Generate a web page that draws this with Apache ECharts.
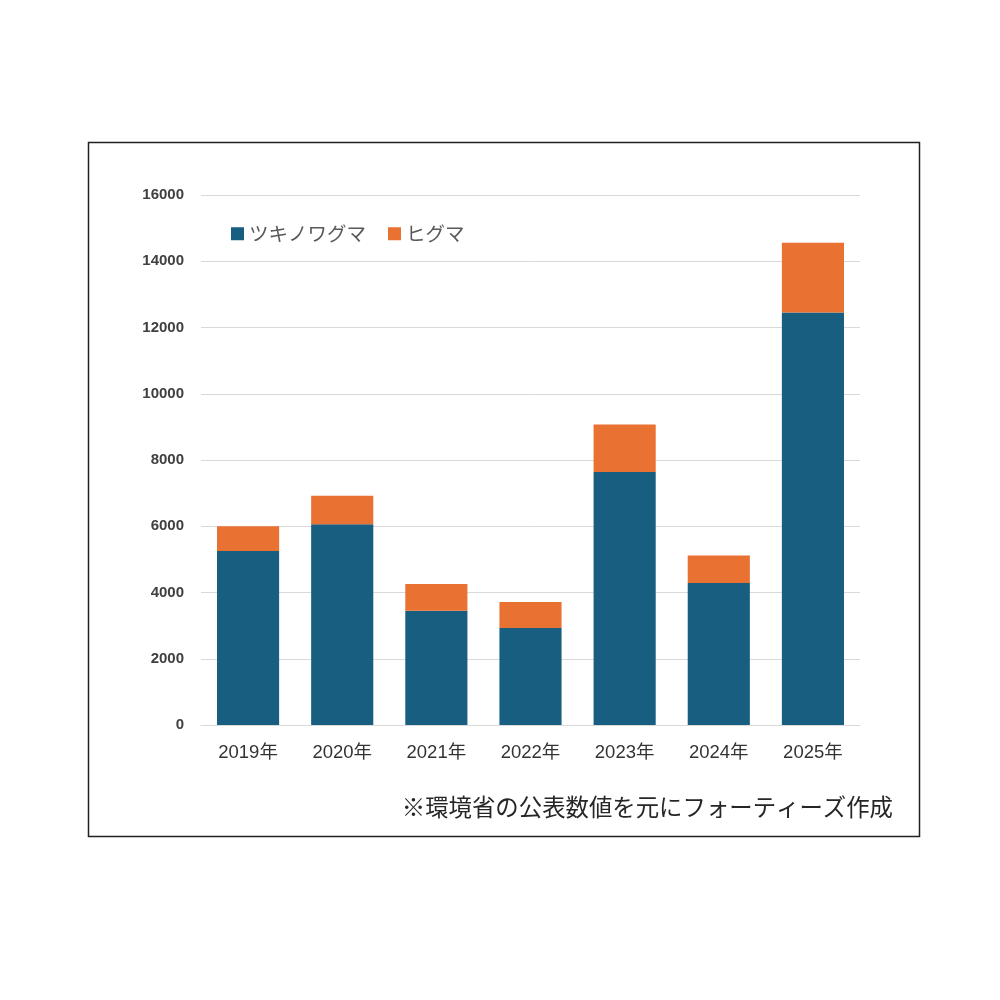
<!DOCTYPE html>
<html>
<head>
<meta charset="utf-8">
<script src="https://cdn.jsdelivr.net/npm/echarts@6/dist/echarts.min.js"></script>
<style>
  html, body { margin: 0; padding: 0; background: #fff; }
  #main { width: 1000px; height: 1000px; }
</style>
</head>
<body>
<div id="main"></div>
<script>
// 年別データ
var years = ['2019年', '2020年', '2021年', '2022年', '2023年', '2024年', '2025年'];
var tsukinowa = [5250, 6060, 3450, 2930, 7640, 4290, 12450];
var higuma = [750, 860, 810, 780, 1430, 830, 2110];
var yTicks = [0, 2000, 4000, 6000, 8000, 10000, 12000, 14000, 16000];

var FONT = '"Noto Sans CJK JP", "Noto Sans", sans-serif';
var NUMFONT = '"Liberation Sans", "Noto Sans CJK JP", sans-serif';
var chart = echarts.init(document.getElementById('main'), null, { renderer: 'canvas' });

var option = {
  backgroundColor: '#fff',
  animation: false,
  color: ['#185e80', '#e97132'],
  textStyle: { fontFamily: FONT },
  grid: { left: 201, right: 140, top: 195, bottom: 275, containLabel: false },
  legend: {
    left: 226,
    top: 219,
    itemWidth: 13,
    itemHeight: 13,
    itemGap: 22,
    icon: 'rect',
    textStyle: { fontSize: 19.5, color: '#595959', fontFamily: FONT },
    data: ['ツキノワグマ', 'ヒグマ']
  },
  xAxis: {
    type: 'category',
    data: years,
    axisLine: { lineStyle: { color: '#d9d9d9', width: 1 } },
    axisTick: { show: false },
    axisLabel: { fontSize: 18.5, color: '#333', margin: 19, fontFamily: NUMFONT }
  },
  yAxis: {
    type: 'value',
    min: yTicks[0],
    max: yTicks[yTicks.length - 1],
    interval: 2000,
    axisLine: { show: false },
    axisTick: { show: false },
    splitLine: { lineStyle: { color: '#d9d9d9', width: 1 } },
    axisLabel: {
      fontSize: 15, color: '#404040', margin: 17, fontWeight: 'bold', fontFamily: NUMFONT,
      formatter: function (v) { return String(v); }
    }
  },
  series: [
    {
      name: 'ツキノワグマ',
      type: 'bar',
      stack: 'total',
      barWidth: '66%',
      data: tsukinowa
    },
    {
      name: 'ヒグマ',
      type: 'bar',
      stack: 'total',
      barWidth: '66%',
      data: higuma
    }
  ],
  graphic: [
    {
      type: 'rect',
      left: 86,
      top: 140,
      shape: { x: 0, y: 0, width: 831, height: 694 },
      style: { fill: 'none', stroke: '#222', lineWidth: 1.5 },
      silent: true
    },
    {
      type: 'text',
      right: 107,
      top: 795,
      style: {
        text: '※環境省の公表数値を元にフォーティーズ作成',
        font: '23.4px ' + FONT,
        fill: '#262626'
      }
    }
  ]
};
chart.setOption(option);
</script>
</body>
</html>
